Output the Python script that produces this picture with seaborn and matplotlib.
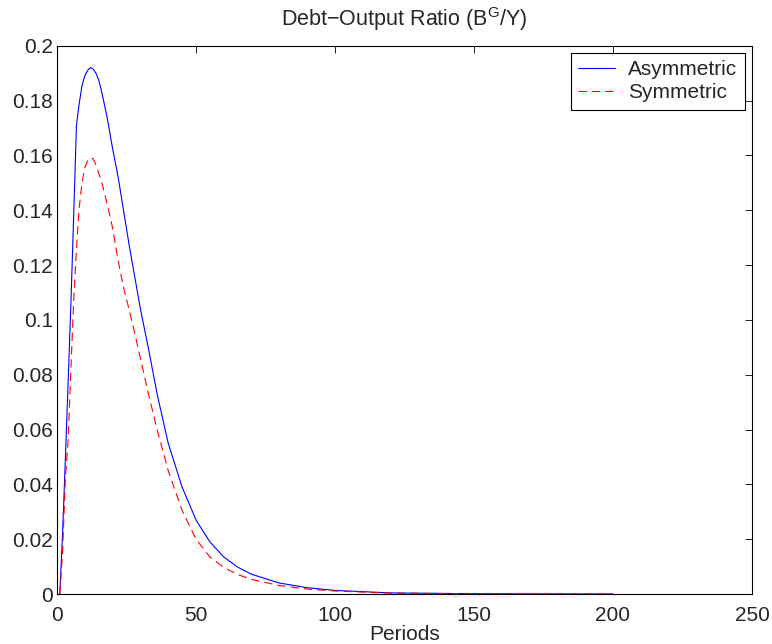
import matplotlib
matplotlib.use("Agg")
import matplotlib.pyplot as plt
import seaborn as sns
import pandas as pd

# values
periods = [1, 2, 3, 4, 5, 6, 7, 8, 9, 10, 11, 12, 13, 14, 15, 16, 18, 20, 22, 24,
           26, 28, 30, 33, 36, 40, 45, 50, 55, 60, 65, 70, 80, 90, 100, 120, 150, 200]
asymmetric = [0.0, 0.022, 0.049, 0.077, 0.106, 0.138, 0.171, 0.179, 0.1855, 0.189,
              0.191, 0.192, 0.1915, 0.190, 0.1875, 0.1835, 0.174, 0.1625, 0.152, 0.1395,
              0.127, 0.1155, 0.104, 0.089, 0.073, 0.055, 0.039, 0.027, 0.019, 0.0135,
              0.0098, 0.0072, 0.0040, 0.0023, 0.0013, 0.0004, 0.0001, 0.0]
symmetric = [0.0, 0.015, 0.042, 0.056, 0.082, 0.107, 0.126, 0.141, 0.150, 0.1555,
             0.158, 0.159, 0.1588, 0.1565, 0.1535, 0.1505, 0.1425, 0.1335, 0.1215, 0.1115,
             0.1035, 0.095, 0.086, 0.0725, 0.060, 0.045, 0.0305, 0.020, 0.0135, 0.0097,
             0.0071, 0.0053, 0.0031, 0.0018, 0.0011, 0.0003, 0.0001, 0.0]
xticks = [0, 50, 100, 150, 200, 250]
yticks = [0, 0.02, 0.04, 0.06, 0.08, 0.1, 0.12, 0.14, 0.16, 0.18, 0.2]
ytick_labels = ["0", "0.02", "0.04", "0.06", "0.08", "0.1", "0.12", "0.14", "0.16", "0.18", "0.2"]

sns.set_style("white")
plt.rcParams["font.family"] = ["Liberation Sans", "DejaVu Sans"]
plt.rcParams["mathtext.fontset"] = "custom"
plt.rcParams["mathtext.rm"] = "Liberation Sans"
plt.rcParams["mathtext.it"] = "Liberation Sans"
plt.rcParams["lines.scale_dashes"] = False

fs = 15
fig = plt.figure(figsize=(7.72, 6.44), dpi=100)
ax = fig.add_axes([57 / 772, 1 - 594 / 644, (752 - 57) / 772, (594 - 45.7) / 644])

sns.lineplot(x=periods, y=asymmetric, color="blue", linewidth=0.8, label="Asymmetric", ax=ax)
sns.lineplot(x=periods, y=symmetric, color="red", linewidth=0.8,
             linestyle=(0, (6, 3.6)), label="Symmetric", ax=ax)

ax.set_xlim(0, 250)
ax.set_ylim(0, 0.2)
ax.set_xticks(xticks)
ax.set_yticks(yticks)
ax.set_yticklabels(ytick_labels)
ax.tick_params(direction="in", top=True, right=True, length=5, width=0.6,
               labelsize=fs, color="black")
ax.tick_params(axis="x", pad=8.5)
ax.tick_params(axis="y", pad=3)
for s in ax.spines.values():
    s.set_color("black")
    s.set_linewidth(0.8)

ax.set_title("Debt\u2212Output Ratio (B$^{\\mathrm{G}}$/Y)", fontsize=15.5, pad=14)
ax.set_xlabel("Periods", fontsize=fs, labelpad=0)
ax.set_ylabel("")

leg = ax.legend(loc="upper right", fontsize=fs, fancybox=False, framealpha=1,
                edgecolor="black", borderaxespad=0.35, handlelength=1.8,
                handletextpad=0.62, labelspacing=0.2, borderpad=0.35)
leg.get_frame().set_linewidth(0.8)

fig.savefig("out.png", dpi=100)
